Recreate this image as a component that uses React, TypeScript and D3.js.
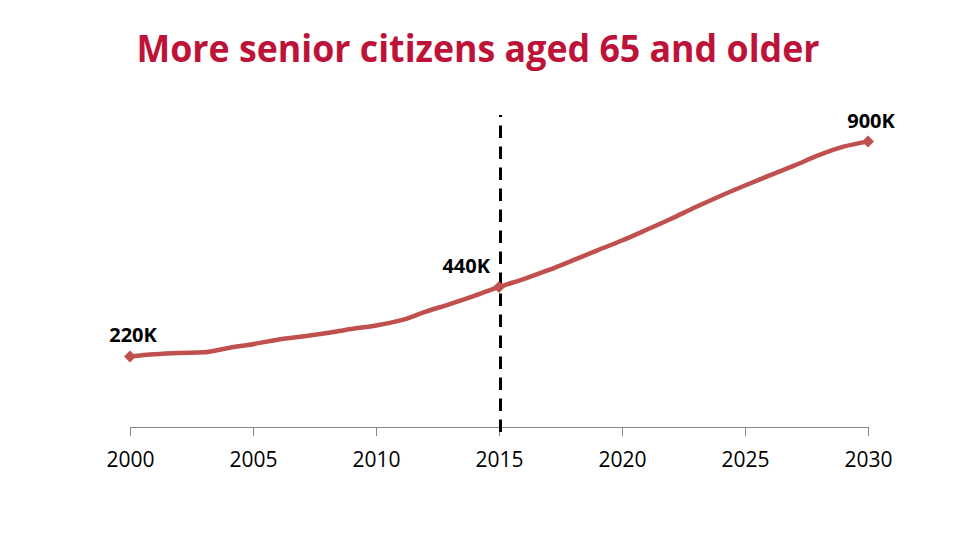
import React from 'react';
import * as d3 from 'd3';

const years: number[] = [
  2000, 2001, 2002, 2003, 2004, 2005, 2006, 2007, 2008, 2009,
  2010, 2011, 2012, 2013, 2014, 2015, 2016, 2017, 2018, 2019,
  2020, 2021, 2022, 2023, 2024, 2025, 2026, 2027, 2028, 2029, 2030
];

// thousands of people aged 65+
const seniors: number[] = [
  220, 227, 231, 233, 247, 259, 273, 283, 294, 307,
  318, 334, 361, 386, 412, 440, 465, 493, 524, 556,
  587, 621, 656, 693, 728, 761, 793, 824, 857, 884, 900
];

const tickYears: number[] = [2000, 2005, 2010, 2015, 2020, 2025, 2030];

const labelled: { year: number; text: string; pos: 'above' | 'left' }[] = [
  { year: 2000, text: '220K', pos: 'above' },
  { year: 2015, text: '440K', pos: 'left' },
  { year: 2030, text: '900K', pos: 'above' }
];

const markerYear = 2015;

const W = 956;
const H = 536;

const App: React.FC = () => {
  const x = d3.scaleLinear().domain([2000, 2030]).range([130, 868]);
  const y = d3.scaleLinear().domain([0, 1000]).range([426, 110]);
  const axisY = 427;

  const points = years.map((yr, i) => [yr, seniors[i]] as [number, number]);
  const line = d3.line<[number, number]>()
    .x(d => x(d[0]))
    .y(d => y(d[1]))
    .curve(d3.curveMonotoneX);

  // square-ish diamond marker like the spreadsheet one
  const diamond = 'M0,-6L6,0L0,6L-6,0Z';

  return (
    <div style={{ position: 'fixed', left: 0, top: 0 }}>
      <svg width={W} height={H} style={{ display: 'block', background: '#fff' }}>
        <text
          x={478}
          y={62}
          textAnchor="middle"
          fontFamily="'Open Sans', sans-serif"
          fontWeight="bold"
          fontSize={38}
          fill="#BE1339"
          textLength={683}
          lengthAdjust="spacingAndGlyphs"
        >
          More senior citizens aged 65 and older
        </text>

        {/* x axis */}
        <line x1={x(2000)} x2={x(2030)} y1={axisY + 0.5} y2={axisY + 0.5} stroke="#868686" strokeWidth={1} />
        {tickYears.map(t => (
          <g key={t} transform={`translate(${Math.round(x(t)) + 0.5},${axisY})`}>
            <line y1={0} y2={9} stroke="#868686" strokeWidth={1} />
            <text
              y={40}
              textAnchor="middle"
              fontFamily="'Open Sans', sans-serif"
              fontSize={21}
              fill="#000"
            >
              {t}
            </text>
          </g>
        ))}

        {/* 2015 divider */}
        <line
          x1={x(markerYear) + 1.5}
          x2={x(markerYear) + 1.5}
          y1={432}
          y2={115}
          stroke="#000"
          strokeWidth={3}
          strokeDasharray="12.5 8.5"
        />

        <path d={line(points) || ''} fill="none" stroke="#C0504D" strokeWidth={4.5} strokeLinejoin="round" />

        {labelled.map(l => {
          const v = seniors[years.indexOf(l.year)];
          const px = x(l.year);
          const py = y(v);
          return (
            <g key={l.year}>
              <path d={diamond} transform={`translate(${px},${py})`} fill="#C0504D" />
              <text
                x={l.pos === 'above' ? px + 3 : px - 9}
                y={py - 14}
                textAnchor={l.pos === 'above' ? 'middle' : 'end'}
                fontFamily="'Open Sans', sans-serif"
                fontWeight="bold"
                fontSize={20}
                fill="#000"
              >
                {l.text}
              </text>
            </g>
          );
        })}
      </svg>
    </div>
  );
};

export default App;
